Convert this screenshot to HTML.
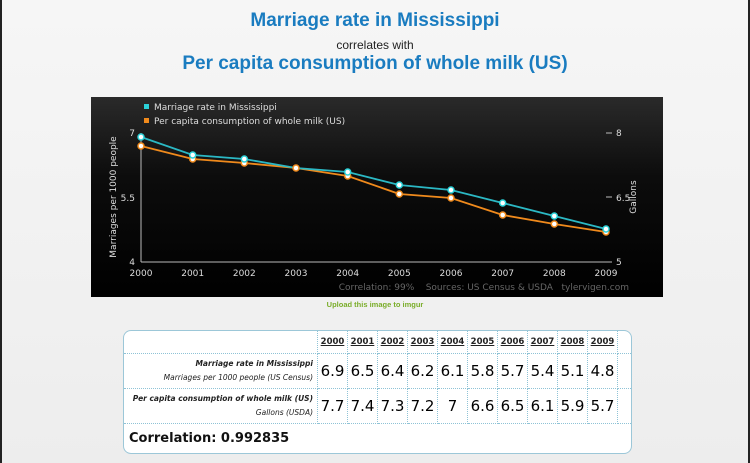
<!DOCTYPE html>
<html><head><style>
body{margin:0;width:750px;height:463px;overflow:hidden;background:#f2f2f2;font-family:"Liberation Sans",sans-serif;}
.frame{position:absolute;left:0;top:0;width:746px;height:463px;border-left:2px solid #222;border-right:2px solid #222;background:linear-gradient(#f6f6f6,#ededed);}
.t{position:absolute;left:0;width:750px;text-align:center;color:#1a7cc0;font-weight:bold;}
table{position:absolute;left:123px;top:330px;width:509px;border-collapse:separate;border-spacing:0;border:1px solid #9cc7d8;border-radius:8px;background:#fff;font-size:15px;font-family:"DejaVu Sans",sans-serif;table-layout:fixed;}
td{border-right:1px dotted #8fc3d6;border-bottom:1px dotted #8fc3d6;text-align:center;padding:0;overflow:hidden;white-space:nowrap}
.h td{height:22px;font-size:8.5px;font-weight:bold;text-decoration:underline;color:#222}
.r td{height:34px}
.lab{text-align:right;font-style:italic;font-size:7.5px;padding-right:4px;line-height:14px;color:#222}
</style></head><body>
<div class="frame"></div>
<div class="t" style="top:10px;font-size:19px;">Marriage rate in Mississippi</div>
<div class="t" style="top:38px;font-size:12px;font-weight:normal;color:#222">correlates with</div>
<div class="t" style="top:53px;font-size:19px;">Per capita consumption of whole milk (US)</div>
<svg style="position:absolute;left:91px;top:97px" width="572" height="200">
<defs><linearGradient id="g" x1="0" y1="0" x2="0" y2="1"><stop offset="0" stop-color="#2a2a2a"/><stop offset="0.4" stop-color="#0c0c0c"/><stop offset="1" stop-color="#000"/></linearGradient></defs>
<rect width="572" height="200" fill="url(#g)"/>
<g font-family="DejaVu Sans,sans-serif" font-size="9" fill="#ddd">
<rect x="53" y="7" width="5" height="5" fill="#2bd1d8"/><text x="63" y="13">Marriage rate in Mississippi</text>
<rect x="53" y="21" width="5" height="5" fill="#f08a1c"/><text x="63" y="27">Per capita consumption of whole milk (US)</text>
<line x1="50" y1="36" x2="50" y2="165" stroke="#bbb"/><line x1="50" y1="165" x2="515" y2="165" stroke="#bbb"/>
<text x="44" y="39" text-anchor="end">7</text><text x="44" y="104" text-anchor="end">5.5</text><text x="44" y="168" text-anchor="end">4</text>
<line x1="515" y1="36" x2="521" y2="36" stroke="#bbb"/><line x1="515" y1="100" x2="521" y2="100" stroke="#bbb"/><line x1="515" y1="165" x2="521" y2="165" stroke="#bbb"/>
<text x="525" y="39">8</text><text x="525" y="104">6.5</text><text x="525" y="168">5</text>
<text transform="translate(25,100) rotate(-90)" text-anchor="middle">Marriages per 1000 people</text>
<text transform="translate(545,100) rotate(-90)" text-anchor="middle">Gallons</text>
<g text-anchor="middle"><text x="50" y="179">2000</text><text x="101.7" y="179">2001</text><text x="153.3" y="179">2002</text><text x="205" y="179">2003</text><text x="256.7" y="179">2004</text><text x="308.3" y="179">2005</text><text x="360" y="179">2006</text><text x="411.7" y="179">2007</text><text x="463.3" y="179">2008</text><text x="515" y="179">2009</text></g>
<text x="538" y="193" text-anchor="end" fill="#666" style="white-space:pre">Correlation: 99%    Sources: US Census &amp; USDA   tylervigen.com</text>
</g>
<polyline fill="none" stroke="#f08a1c" stroke-width="1.8" points="50,49 101.7,62 153.3,66 205,71 256.7,79 308.3,97 360,101 411.7,118 463.3,127 515,135"/>
<polyline fill="none" stroke="#2bb8c4" stroke-width="1.8" points="50,40 101.7,58 153.3,62 205,71 256.7,75 308.3,88 360,93 411.7,106 463.3,119 515,132"/>
<g fill="#fff" stroke="#f08a1c" stroke-width="1.5"><circle cx="50" cy="49" r="3"/><circle cx="101.7" cy="62" r="3"/><circle cx="153.3" cy="66" r="3"/><circle cx="205" cy="71" r="3"/><circle cx="256.7" cy="79" r="3"/><circle cx="308.3" cy="97" r="3"/><circle cx="360" cy="101" r="3"/><circle cx="411.7" cy="118" r="3"/><circle cx="463.3" cy="127" r="3"/><circle cx="515" cy="135" r="3"/></g>
<g fill="#fff" stroke="#2bd1d8" stroke-width="1.5"><circle cx="50" cy="40" r="3"/><circle cx="101.7" cy="58" r="3"/><circle cx="153.3" cy="62" r="3"/><circle cx="256.7" cy="75" r="3"/><circle cx="308.3" cy="88" r="3"/><circle cx="360" cy="93" r="3"/><circle cx="411.7" cy="106" r="3"/><circle cx="463.3" cy="119" r="3"/><circle cx="515" cy="132" r="3"/></g>
</svg>
<div style="position:absolute;left:0;width:750px;top:300px;text-align:center;font-size:7.5px;color:#7aad2a;font-weight:bold">Upload this image to imgur</div>
<table>
<colgroup><col style="width:194px"><col span="10" style="width:30px"><col style="width:13px"></colgroup>
<tr class="h"><td></td><td>2000</td><td>2001</td><td>2002</td><td>2003</td><td>2004</td><td>2005</td><td>2006</td><td>2007</td><td>2008</td><td>2009</td><td style="border-right:0"></td></tr>
<tr class="r"><td class="lab"><b>Marriage rate in Mississippi</b><br>Marriages per 1000 people (US Census)</td><td>6.9</td><td>6.5</td><td>6.4</td><td>6.2</td><td>6.1</td><td>5.8</td><td>5.7</td><td>5.4</td><td>5.1</td><td>4.8</td><td style="border-right:0"></td></tr>
<tr class="r"><td class="lab"><b>Per capita consumption of whole milk (US)</b><br>Gallons (USDA)</td><td>7.7</td><td>7.4</td><td>7.3</td><td>7.2</td><td>7</td><td>6.6</td><td>6.5</td><td>6.1</td><td>5.9</td><td>5.7</td><td style="border-right:0"></td></tr>
<tr><td colspan="12" style="border:0;text-align:left;height:29px;padding-left:5px;font-weight:bold;font-size:13px;color:#111">Correlation: 0.992835</td></tr>
</table>
</body></html>
